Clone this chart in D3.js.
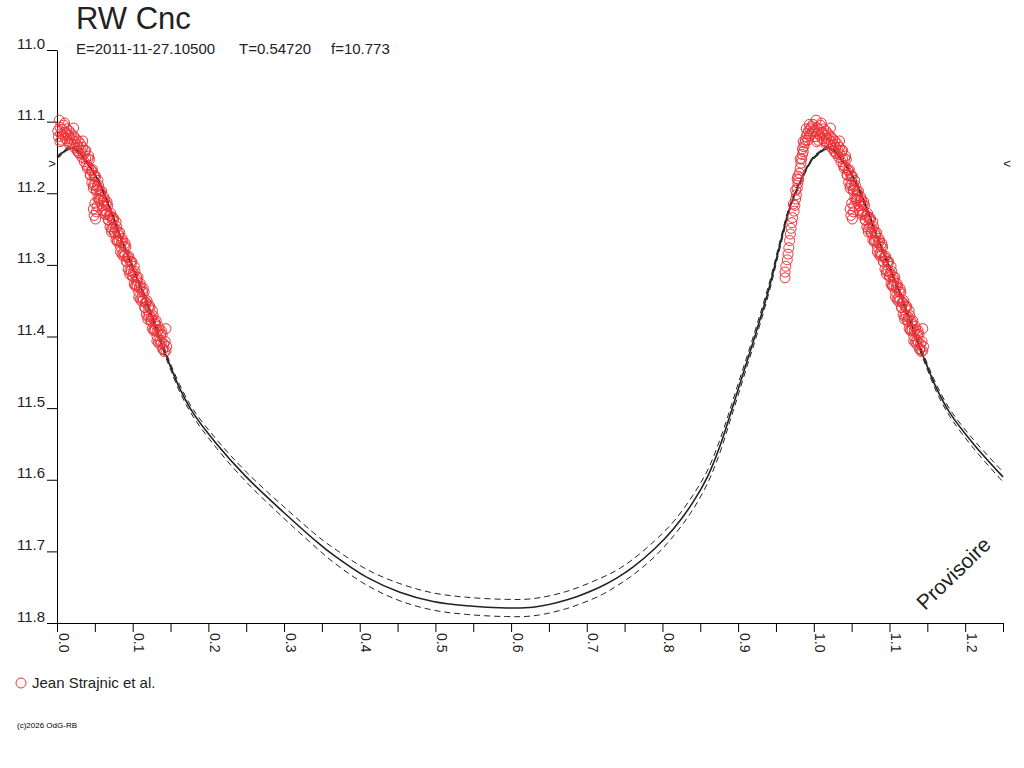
<!DOCTYPE html>
<html>
<head>
<meta charset="utf-8">
<script src="https://cdn.jsdelivr.net/npm/d3@7"></script>
<style>
body { margin: 0; background: #fff; }
text { font-family: "Liberation Sans", Arial, sans-serif; }
</style>
</head>
<body>
<div id="chart"></div>
<script>
var starName = "RW Cnc";
var infoLabels = ["E=2011-11-27.10500", "T=0.54720", "f=10.773"];
var observerName = "Jean Strajnic et al.";
var creditText = "(c)2026 OdG-RB";
var stampText = "Provisoire";

var magTicks = [11.0, 11.1, 11.2, 11.3, 11.4, 11.5, 11.6, 11.7, 11.8];
var phaseTicks = [0.0, 0.05, 0.1, 0.15, 0.2, 0.25, 0.3, 0.35, 0.4, 0.45, 0.5, 0.55, 0.6,
                  0.65, 0.7, 0.75, 0.8, 0.85, 0.9, 0.95, 1.0, 1.05, 1.1, 1.15, 1.2, 1.25];
var phaseLabels = [0.0, 0.1, 0.2, 0.3, 0.4, 0.5, 0.6, 0.7, 0.8, 0.9, 1.0, 1.1, 1.2];

// mean maximum marker (the little > and < on both sides)
var meanMaxMag = 11.158;

// model light curve, one cycle
var modelPhase = [0.000, 0.008, 0.016, 0.025, 0.034, 0.045, 0.058, 0.074, 0.087, 0.100,
                  0.114, 0.127, 0.140, 0.150, 0.162, 0.180, 0.211, 0.250, 0.299, 0.347,
                  0.365, 0.409, 0.453, 0.497, 0.541, 0.594, 0.629, 0.673, 0.717, 0.740,
                  0.761, 0.790, 0.815, 0.840, 0.860, 0.876, 0.889, 0.900, 0.912, 0.925,
                  0.942, 0.955, 0.968, 0.982, 0.995];
var modelMag = [11.150, 11.143, 11.137, 11.139, 11.149, 11.165, 11.190, 11.233, 11.270, 11.303,
                11.340, 11.377, 11.415, 11.442, 11.472, 11.507, 11.550, 11.596, 11.645, 11.690,
                11.705, 11.736, 11.757, 11.770, 11.776, 11.779, 11.778, 11.768, 11.750, 11.737,
                11.722, 11.696, 11.668, 11.632, 11.595, 11.553, 11.511, 11.474, 11.434, 11.390,
                11.328, 11.273, 11.221, 11.184, 11.157];
// half width of the dashed envelope
var modelSpread = [0.002, 0.002, 0.002, 0.002, 0.002, 0.002, 0.003, 0.003, 0.003, 0.003,
                   0.004, 0.004, 0.004, 0.004, 0.005, 0.005, 0.006, 0.007, 0.008, 0.009,
                   0.010, 0.011, 0.012, 0.012, 0.012, 0.012, 0.012, 0.012, 0.012, 0.011,
                   0.011, 0.011, 0.010, 0.010, 0.009, 0.009, 0.008, 0.008, 0.007, 0.007,
                   0.006, 0.005, 0.004, 0.003, 0.002];

// observations [phase, mag]
var risingObs = [[0.962,11.318],[0.962,11.310],[0.963,11.302],[0.965,11.293],[0.966,11.285],
  [0.967,11.276],[0.968,11.266],[0.969,11.257],[0.970,11.249],[0.971,11.241],[0.972,11.234],
  [0.973,11.215],[0.974,11.225],[0.975,11.217],[0.976,11.208],[0.976,11.196],[0.977,11.202],
  [0.978,11.193],[0.979,11.186],[0.979,11.176],[0.980,11.181],[0.981,11.172],[0.982,11.165],
  [0.983,11.158],[0.984,11.152],[0.985,11.146],[0.985,11.138],[0.986,11.142],[0.987,11.135],
  [0.988,11.130],[0.989,11.126],[0.990,11.121],[0.991,11.117],[0.992,11.126],[0.993,11.113],
  [0.994,11.120],[0.995,11.110],[0.996,11.117],[0.997,11.107],[0.998,11.114],[0.999,11.104],
  [0.978,11.180],[0.982,11.152],[0.986,11.128],[0.990,11.110],[0.994,11.104]];

var peakObs = [[0.001,11.113],[0.002,11.121],[0.003,11.098],[0.004,11.108],[0.005,11.117],
  [0.006,11.126],[0.007,11.111],[0.008,11.119],[0.009,11.105],[0.010,11.115],[0.011,11.124],
  [0.012,11.116],[0.013,11.110],[0.014,11.127],[0.015,11.119],[0.016,11.113],[0.017,11.123],
  [0.018,11.130],[0.019,11.117],[0.020,11.125],[0.021,11.133],[0.022,11.120],[0.023,11.128],
  [0.024,11.137],[0.025,11.124],[0.026,11.132],[0.027,11.141],[0.028,11.127],[0.029,11.136],
  [0.030,11.145],[0.031,11.131],[0.032,11.140],[0.033,11.150],[0.034,11.136],[0.035,11.146],
  [0.036,11.156],[0.037,11.141],[0.038,11.152],[0.039,11.161],
  [0.004,11.128],[0.010,11.102],[0.016,11.131],[0.022,11.109],[0.028,11.143],[0.034,11.127],
  [0.038,11.140]];

var fallingObs = [[0.040,11.165],[0.041,11.152],[0.042,11.164],[0.043,11.153],[0.044,11.174],
  [0.045,11.168],[0.046,11.185],[0.047,11.167],[0.048,11.189],[0.049,11.176],[0.050,11.188],
  [0.051,11.177],[0.052,11.197],[0.053,11.191],[0.054,11.207],[0.055,11.189],[0.056,11.210],
  [0.057,11.197],[0.058,11.208],[0.059,11.197],[0.060,11.217],[0.061,11.211],[0.062,11.227],
  [0.063,11.209],[0.064,11.230],[0.065,11.217],[0.066,11.228],[0.067,11.217],[0.068,11.237],
  [0.069,11.231],[0.070,11.247],[0.071,11.228],[0.072,11.250],[0.073,11.236],[0.074,11.247],
  [0.075,11.236],[0.076,11.256],[0.077,11.249],[0.078,11.265],[0.079,11.247],[0.080,11.268],
  [0.081,11.255],[0.082,11.266],[0.083,11.255],[0.084,11.275],[0.085,11.269],[0.086,11.285],
  [0.087,11.267],[0.088,11.288],[0.089,11.275],[0.090,11.286],[0.091,11.275],[0.092,11.295],
  [0.093,11.289],[0.094,11.306],[0.095,11.288],[0.096,11.309],[0.097,11.296],[0.098,11.308],
  [0.099,11.296],[0.100,11.317],[0.101,11.311],[0.102,11.327],[0.103,11.309],[0.104,11.330],
  [0.105,11.317],[0.106,11.329],[0.107,11.317],[0.108,11.338],[0.109,11.331],[0.110,11.348],
  [0.111,11.330],[0.112,11.351],[0.113,11.338],[0.114,11.349],[0.115,11.338],[0.116,11.359],
  [0.117,11.352],[0.118,11.369],[0.119,11.350],[0.120,11.372],[0.121,11.359],[0.122,11.370],
  [0.123,11.359],[0.124,11.379],[0.125,11.373],[0.126,11.389],[0.127,11.371],[0.128,11.392],
  [0.129,11.379],[0.130,11.390],[0.131,11.378],[0.132,11.399],[0.133,11.392],[0.134,11.408],
  [0.135,11.390],[0.136,11.411],[0.137,11.397],[0.138,11.408],[0.139,11.397],[0.140,11.417],
  [0.141,11.410],[0.142,11.421],[0.143,11.407],[0.144,11.420],[0.144,11.389],[0.145,11.414],
  [0.042,11.148],[0.044,11.175],[0.046,11.169],[0.048,11.193],[0.050,11.175],[0.052,11.195],
  [0.054,11.182],[0.056,11.208],[0.058,11.201],[0.060,11.224],[0.062,11.205],[0.064,11.225],
  [0.066,11.212],[0.068,11.238],[0.070,11.231],[0.072,11.254],[0.074,11.234],[0.076,11.254],
  [0.078,11.240],[0.080,11.266],[0.082,11.259],[0.084,11.282],[0.086,11.263],[0.088,11.283],
  [0.090,11.270],[0.092,11.296],[0.094,11.290],[0.096,11.313],[0.098,11.295],[0.100,11.315],
  [0.102,11.302],[0.104,11.328],[0.106,11.322],[0.108,11.345],[0.110,11.326],[0.112,11.346],
  [0.114,11.333],[0.116,11.360],[0.118,11.353],[0.120,11.376],[0.122,11.357],[0.124,11.377],
  [0.126,11.364],[0.128,11.390],[0.130,11.383],[0.132,11.406],[0.134,11.386],[0.136,11.406],
  [0.138,11.392],[0.140,11.418],
  // fainter little group near phase 0.05
  [0.048,11.222],[0.049,11.231],[0.050,11.214],[0.051,11.236],[0.052,11.226],[0.053,11.218]];

var outerWidth = 1024, outerHeight = 768;
var plotLeft = 57, plotRight = 1003, plotTop = 50, plotBottom = 623;
var dotColor = "#ee3338";
var inkColor = "#222";

var svg = d3.select("#chart").append("svg")
    .attr("width", outerWidth)
    .attr("height", outerHeight)
    .style("background", "#fff");

var xScale = d3.scaleLinear().domain([0, 1.25]).range([plotLeft, plotRight]),
    yScale = d3.scaleLinear().domain([11.0, 11.8]).range([plotTop, plotBottom]);

// title block
svg.append("text")
    .attr("x", 76).attr("y", 29)
    .attr("font-size", "31px").attr("fill", inkColor)
    .text(starName);

var infoX = [76, 239, 331];
infoLabels.forEach(function(t, i) {
    svg.append("text")
        .attr("x", infoX[i]).attr("y", 54)
        .attr("font-size", "15px").attr("fill", inkColor)
        .text(t);
});

// y axis
var yAxis = svg.append("g")
    .attr("transform", "translate(" + plotLeft + ",0)")
    .style("color", "#000")
    .call(d3.axisLeft(yScale).tickValues(magTicks).tickSize(10).tickSizeOuter(0)
        .tickFormat(d3.format(".1f")));
yAxis.attr("font-family", null).attr("font-size", null);
yAxis.selectAll("text")
    .attr("x", -12).attr("dy", "-2px")
    .attr("font-size", "15px").attr("fill", inkColor);

// x axis
function isLabelled(d) {
    return phaseLabels.some(function(v) { return Math.abs(v - d) < 1e-6; });
}
var xAxis = svg.append("g")
    .attr("transform", "translate(0," + plotBottom + ")")
    .style("color", "#000")
    .call(d3.axisBottom(xScale).tickValues(phaseTicks).tickSize(9).tickSizeOuter(0)
        .tickFormat(function(d) { return isLabelled(d) ? d3.format(".1f")(d) : ""; }));
xAxis.attr("font-family", null).attr("font-size", null);
xAxis.selectAll("text")
    .attr("x", 0).attr("y", 0).attr("dy", 0)
    .attr("transform", "translate(1,10) rotate(90)")
    .style("text-anchor", "start")
    .attr("font-size", "14px").attr("fill", inkColor);

// mean maximum markers
svg.append("text")
    .attr("x", 52).attr("y", yScale(meanMaxMag))
    .attr("text-anchor", "middle").attr("dominant-baseline", "central")
    .attr("font-size", "13px").attr("fill", inkColor).text(">");
svg.append("text")
    .attr("x", 1007).attr("y", yScale(meanMaxMag))
    .attr("text-anchor", "middle").attr("dominant-baseline", "central")
    .attr("font-size", "13px").attr("fill", inkColor).text("<");

// model curve repeated over 0..1.25
function modelSeries(sign) {
    var pts = [];
    [0, 1].forEach(function(k) {
        modelPhase.forEach(function(p, i) {
            var ph = p + k;
            if (ph <= 1.25 + 1e-9) pts.push([ph, modelMag[i] + sign * modelSpread[i]]);
        });
    });
    return pts;
}

var line = d3.line()
    .x(function(d) { return xScale(d[0]); })
    .y(function(d) { return yScale(d[1]); })
    .curve(d3.curveCatmullRom.alpha(0.5));

[-1, 1].forEach(function(s) {
    svg.append("path")
        .attr("d", line(modelSeries(s)))
        .attr("fill", "none")
        .attr("stroke", inkColor)
        .attr("stroke-width", 1)
        .attr("stroke-dasharray", "6,4");
});
svg.append("path")
    .attr("d", line(modelSeries(0)))
    .attr("fill", "none")
    .attr("stroke", inkColor)
    .attr("stroke-width", 1.6);

// observations, folded on both cycles
var allObs = risingObs.concat(peakObs, fallingObs);
var plotted = [];
allObs.forEach(function(o) {
    [-1, 0, 1].forEach(function(k) {
        var ph = o[0] + k;
        if (ph >= 0 && ph <= 1.25) plotted.push([ph, o[1]]);
    });
});

svg.append("g").selectAll("circle")
    .data(plotted)
    .enter()
    .append("circle")
    .attr("cx", function(d) { return xScale(d[0]); })
    .attr("cy", function(d) { return yScale(d[1]); })
    .attr("r", 5)
    .attr("fill", "none")
    .attr("stroke", dotColor)
    .attr("stroke-width", 1);

// stamp
svg.append("text")
    .attr("transform", "translate(925,611) rotate(-44)")
    .attr("font-size", "21px").attr("fill", inkColor)
    .text(stampText);

// legend
svg.append("circle")
    .attr("cx", 21).attr("cy", 683).attr("r", 5)
    .attr("fill", "none").attr("stroke", dotColor).attr("stroke-width", 1);
svg.append("text")
    .attr("x", 32).attr("y", 688)
    .attr("font-size", "15px").attr("fill", inkColor)
    .text(observerName);

svg.append("text")
    .attr("x", 17).attr("y", 728)
    .attr("font-size", "8px").attr("fill", "#000")
    .text(creditText);
</script>
</body>
</html>
